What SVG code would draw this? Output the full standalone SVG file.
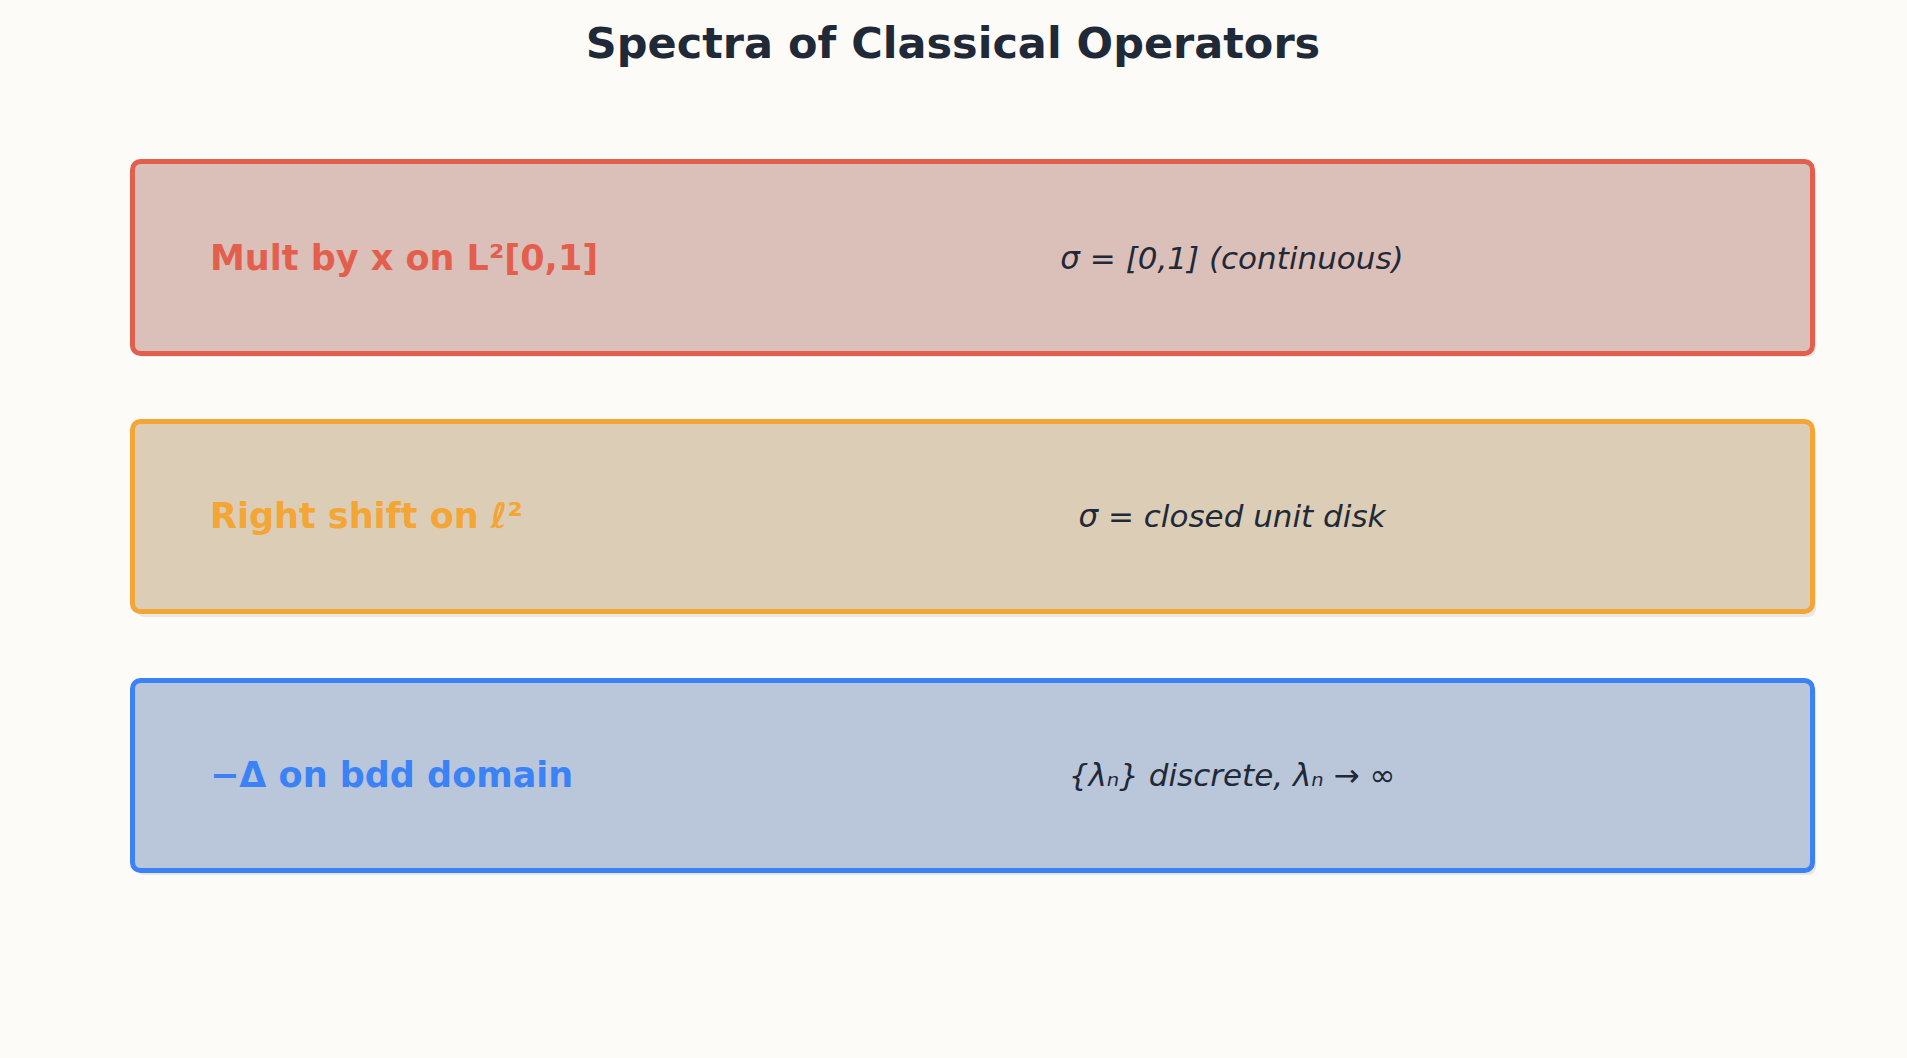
<svg xmlns="http://www.w3.org/2000/svg" width="1907" height="1058" viewBox="0 0 1907 1058">
<style>
.box{stroke-width:5}
.lbl{font-family:"DejaVu Sans",sans-serif;font-weight:bold;font-size:35px}
.val{font-family:"DejaVu Sans",sans-serif;font-style:italic;font-size:31px;fill:#1f2937;text-anchor:middle}
.sh{fill:#000;opacity:0.08}
</style>
<rect width="1907" height="1058" fill="#fcfbf8"/>
<text x="953" y="58" text-anchor="middle" font-family="DejaVu Sans,sans-serif" font-weight="bold" font-size="43" fill="#1f2937">Spectra of Classical Operators</text>
<g id="n1">
<rect class="sh" x="136" y="166" width="1680" height="191" rx="8"/>
<rect class="box" x="132.5" y="161.5" width="1680" height="192" rx="8" fill="#dbbfb9" stroke="#e35f4d"/>
<text class="lbl" x="210" y="270" fill="#e35f4d">Mult by x on L²[0,1]</text>
<text class="val" x="1232" y="269">σ = [0,1] (continuous)</text>
</g>
<g id="n2">
<rect class="sh" x="136" y="426" width="1680" height="191" rx="8"/>
<rect class="box" x="132.5" y="421.5" width="1680" height="190" rx="8" fill="#dccdb6" stroke="#f3a536"/>
<text class="lbl" x="210" y="528" fill="#f3a536">Right shift on ℓ²</text>
<text class="val" x="1232" y="527">σ = closed unit disk</text>
</g>
<g id="n3">
<rect class="sh" x="136" y="684" width="1680" height="191" rx="8"/>
<rect class="box" x="132.5" y="680.5" width="1680" height="190" rx="8" fill="#bac6d9" stroke="#3b82f6"/>
<text class="lbl" x="210" y="787" fill="#3b82f6">−Δ on bdd domain</text>
<text class="val" x="1232" y="786">{λₙ} discrete, λₙ → ∞</text>
</g>
<g id="connectors"/>
</svg>
